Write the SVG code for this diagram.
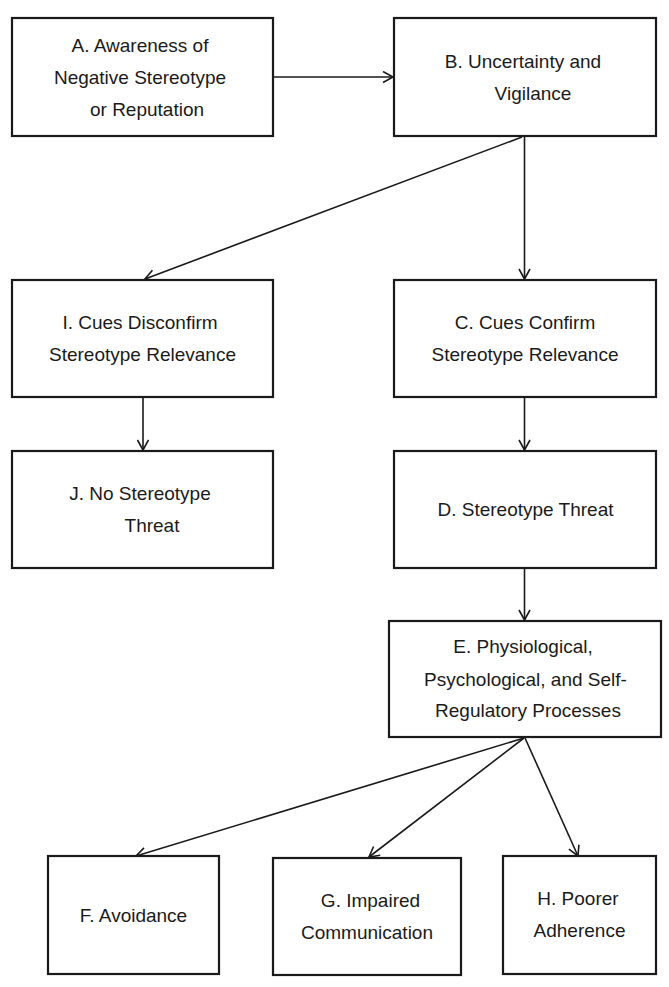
<svg xmlns="http://www.w3.org/2000/svg" width="669" height="987" viewBox="0 0 669 987">
<style>
.box{fill:#fff;stroke:#1a1a1a;stroke-width:2.2}
.t{font-family:"Liberation Sans",Arial,sans-serif;font-size:19px;fill:#1a1a1a;text-anchor:middle}
.c{fill:none;stroke:#1a1a1a;stroke-width:1.6}
</style>
<defs>
<marker id="ah" markerUnits="userSpaceOnUse" markerWidth="14" markerHeight="14" refX="11" refY="6" orient="auto">
<path d="M1,0.5 L11,6 L1,11.5" fill="none" stroke="#1a1a1a" stroke-width="1.6"/>
</marker>
</defs>
<rect width="669" height="987" fill="#fff"/>
<g id="connectors">
<line class="c" x1="273" y1="77" x2="393" y2="77" marker-end="url(#ah)"/>
<line class="c" x1="524.5" y1="136" x2="524.5" y2="279" marker-end="url(#ah)"/>
<line class="c" x1="522" y1="137" x2="145" y2="279" marker-end="url(#ah)"/>
<line class="c" x1="143" y1="397" x2="143" y2="450" marker-end="url(#ah)"/>
<line class="c" x1="524.5" y1="397" x2="524.5" y2="450" marker-end="url(#ah)"/>
<line class="c" x1="524.5" y1="568" x2="524.5" y2="620" marker-end="url(#ah)"/>
<line class="c" x1="524" y1="738" x2="136" y2="856" marker-end="url(#ah)"/>
<line class="c" x1="524" y1="738" x2="369" y2="857" marker-end="url(#ah)"/>
<line class="c" x1="525" y1="738" x2="578" y2="856" marker-end="url(#ah)"/>
</g>
<g id="A">
<rect class="box" x="12" y="18" width="261" height="118"/>
<text class="t" x="140" y="52">A. Awareness of</text>
<text class="t" x="140" y="84">Negative Stereotype</text>
<text class="t" x="147" y="116">or Reputation</text>
</g>
<g id="B">
<rect class="box" x="394" y="18" width="262" height="118"/>
<text class="t" x="523" y="68">B. Uncertainty and</text>
<text class="t" x="533" y="100">Vigilance</text>
</g>
<g id="I">
<rect class="box" x="12" y="280" width="261" height="117"/>
<text class="t" x="140" y="329">I. Cues Disconfirm</text>
<text class="t" x="142.5" y="361">Stereotype Relevance</text>
</g>
<g id="C">
<rect class="box" x="394" y="280" width="262" height="117"/>
<text class="t" x="525" y="329">C. Cues Confirm</text>
<text class="t" x="525" y="361">Stereotype Relevance</text>
</g>
<g id="J">
<rect class="box" x="12" y="451" width="261" height="117"/>
<text class="t" x="140" y="500">J. No Stereotype</text>
<text class="t" x="152" y="532">Threat</text>
</g>
<g id="D">
<rect class="box" x="394" y="451" width="262" height="117"/>
<text class="t" x="525.5" y="516">D. Stereotype Threat</text>
</g>
<g id="E">
<rect class="box" x="389" y="621" width="272" height="116"/>
<text class="t" x="523" y="653">E. Physiological,</text>
<text class="t" x="525.5" y="686">Psychological, and Self-</text>
<text class="t" x="528" y="717">Regulatory Processes</text>
</g>
<g id="F">
<rect class="box" x="48" y="856" width="171" height="118"/>
<text class="t" x="133.5" y="922">F. Avoidance</text>
</g>
<g id="G">
<rect class="box" x="273" y="858" width="188" height="117"/>
<text class="t" x="370.5" y="907">G. Impaired</text>
<text class="t" x="367" y="939">Communication</text>
</g>
<g id="H">
<rect class="box" x="503" y="856" width="153" height="118"/>
<text class="t" x="578" y="905">H. Poorer</text>
<text class="t" x="579.5" y="937">Adherence</text>
</g>
</svg>
